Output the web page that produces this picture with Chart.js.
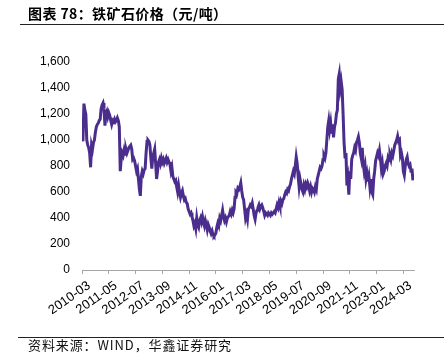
<!DOCTYPE html>
<html>
<head>
<meta charset="utf-8">
<script src="https://cdn.jsdelivr.net/npm/chart.js@4/dist/chart.umd.min.js"></script>
<style>
  html, body { margin:0; padding:0; background:#fff; overflow:hidden; }
  #wrap { position:relative; width:444px; height:359px; }
  #c { position:absolute; left:0; top:0; }
  .title { position:absolute; left:28px; top:6px; font:bold 14px "Noto Sans CJK SC", sans-serif; line-height:14px; letter-spacing:0.4px; color:#000; white-space:nowrap; }
  .rule { position:absolute; height:1px; background:#222; }
  .source { position:absolute; left:28px; top:338px; font:13px "Noto Sans CJK SC", sans-serif; line-height:13px; letter-spacing:0.9px; color:#111; white-space:nowrap; }
</style>
</head>
<body>
<div id="wrap">
  <canvas id="c" width="444" height="359"></canvas>
  <div class="title">图表 78：铁矿石价格（元/吨）</div>
  <div class="rule" style="left:20px; top:24px; width:424px;"></div>
  <div class="rule" style="left:18px; top:337px; width:426px;"></div>
  <div class="source">资料来源：WIND，华鑫证券研究</div>
</div>
<script>
// ---- data (semi-monthly, first value = 2010-03 first half) ----
const seriesName = '铁矿石价格';
const startPeriod = '2010-03';
const axisEnd = '2024-08-18';
const tickLabels = ['2010-03','2011-05','2012-07','2013-09','2014-11','2016-01','2017-03','2018-05','2019-07','2020-09','2021-11','2023-01','2024-03'];
const yTicks = [0, 200, 400, 600, 800, 1000, 1200, 1400, 1600];

const prices2010 = [1060,990,1280,1230,1200,1000,960,940,900,790,960,930,980,1000,1060,1100,1120,1130,1150,1160];
const prices2011 = [1240,1270,1285,1240,1110,1200,1220,1180,1210,1190,1150,1120,1150,1140,1160,1140,1150,1170,1150,1100,760,850,900,880];
const prices2012 = [920,890,930,900,920,940,950,960,930,850,860,840,800,760,780,700,620,570,720,760,740,770,780,900];
const prices2013 = [990,1000,990,960,860,780,870,900,930,820,700,760,830,850,820,860,830,850,820,840,860,830,850,830];
const prices2014 = [810,760,790,720,700,680,690,640,600,650,600,560,590,610,570,540,550,520,510,470,450,430,440,410];
const prices2015 = [380,340,360,320,400,350,330,380,400,370,410,370,340,380,350,310,350,330,300,280,300,270,260,270];
const prices2016 = [285,330,360,340,400,380,420,460,410,380,400,370,400,410,420,450,430,460,440,470,560,600,590,630];
const prices2017 = [620,640,670,610,560,540,470,400,430,390,470,480,500,490,515,470,420,390,440,460,480,500,470,490];
const prices2018 = [500,480,450,420,440,430,420,440,430,420,440,430,440,450,440,470,500,480,520,490,530,510,540,550];
const prices2019 = [580,600,590,620,610,640,660,700,730,760,740,800,870,820,720,640,700,660,620,600,650,620,660,640];
const prices2020 = [670,650,610,640,600,630,620,600,640,620,700,730,760,790,780,800,850,880,860,900,1000,1100,1150,1080];
const prices2021 = [1130,1050,1120,1020,1100,1130,1200,1230,1470,1510,1400,1450,1390,1200,980,870,900,650,700,580,760,700,850,880];
const prices2022 = [900,940,920,980,1000,1025,980,900,860,940,820,760,800,700,740,680,720,640,700,600,580,700,760,840];
const prices2023 = [870,900,880,920,860,780,820,740,760,800,820,800,860,840,880,850,900,880,920,960,980,1000,1030,990];
const prices2024 = [1000,880,900,860,760,730,800,850,870,820,800,810,760,780,690];

const prices = [].concat(prices2010, prices2011, prices2012, prices2013, prices2014, prices2015,
  prices2016, prices2017, prices2018, prices2019, prices2020, prices2021, prices2022, prices2023, prices2024);

// period labels for each value (1st / 16th of each month)
const [sY, sM] = startPeriod.split('-').map(Number);
const dates = prices.map((_, i) => {
  const k = Math.floor(i / 2) + (sM - 1);
  const y = sY + Math.floor(k / 12);
  const m = (k % 12) + 1;
  return y + '-' + String(m).padStart(2, '0') + '-' + (i % 2 ? '16' : '01');
});

function monthIndex(s) {
  const p = s.split('-').map(Number);
  const day = p[2] || 1;
  return (p[0] - sY) * 12 + (p[1] - sM) + (day - 1) / 30;
}

const points = dates.map((d, i) => ({ x: monthIndex(d), y: prices[i] }));
const tickPos = tickLabels.map(monthIndex);

const yFont = { family: '"Liberation Sans", Arial, sans-serif', size: 12 };
const xFont = { family: '"Liberation Sans", Arial, sans-serif', size: 13 };

new Chart(document.getElementById('c'), {
  type: 'line',
  data: {
    datasets: [{
      label: seriesName,
      data: points,
      borderColor: '#4a2d8c',
      borderWidth: 3,
      pointRadius: 0,
      tension: 0,
      fill: false
    }]
  },
  options: {
    responsive: false,
    animation: false,
    layout: { padding: { left: 0, right: 30, top: 62, bottom: 0 } },
    plugins: { legend: { display: false }, tooltip: { enabled: false } },
    scales: {
      x: {
        type: 'linear',
        min: 0,
        max: monthIndex(axisEnd),
        afterBuildTicks: s => { s.ticks = tickPos.map(v => ({ value: v })); },
        afterFit: s => { s.height = 89; },
        grid: { display: true, drawOnChartArea: false, drawTicks: true, tickLength: 4, color: '#a6a6a6' },
        border: { display: true, color: '#a6a6a6', width: 1 },
        ticks: {
          autoSkip: false, minRotation: 35, maxRotation: 35, labelOffset: 7, padding: 4,
          color: '#000', font: xFont,
          callback: (v, i) => tickLabels[i]
        }
      },
      y: {
        min: 0, max: 1600,
        afterBuildTicks: s => { s.ticks = yTicks.map(v => ({ value: v })); },
        afterFit: s => { s.width = 82; },
        grid: { display: false, drawTicks: false },
        border: { display: false },
        ticks: {
          padding: 12, color: '#000', font: yFont,
          callback: v => v.toLocaleString('en-US')
        }
      }
    }
  }
});
</script>
</body>
</html>
